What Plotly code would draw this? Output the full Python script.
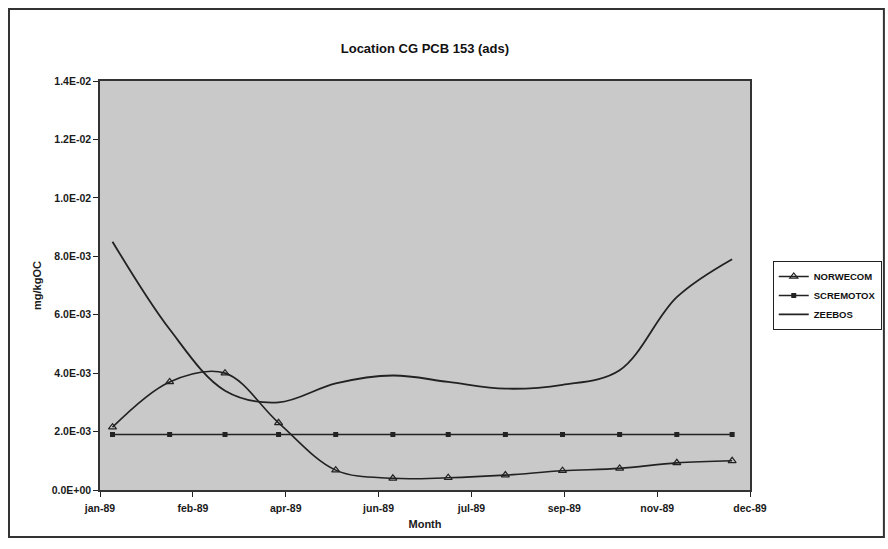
import plotly.graph_objects as go

# Sampling dates (1989) and concentrations in mg/kgOC
dates = ["1989-01-08", "1989-02-09", "1989-03-12", "1989-04-11", "1989-05-13", "1989-06-14",
         "1989-07-15", "1989-08-16", "1989-09-17", "1989-10-19", "1989-11-20", "1989-12-21"]
norwecom = [2.15e-3, 3.70e-3, 4.00e-3, 2.30e-3, 0.68e-3, 0.40e-3,
            0.42e-3, 0.51e-3, 0.66e-3, 0.74e-3, 0.93e-3, 1.00e-3]
scremotox = [1.9e-3] * 12
zeebos = [8.5e-3, 5.5e-3, 3.4e-3, 3.0e-3, 3.65e-3, 3.92e-3,
          3.7e-3, 3.47e-3, 3.6e-3, 4.1e-3, 6.6e-3, 7.9e-3]

# Axis ticks (52-day steps on the date axis)
x_tickvals = ["1989-01-01", "1989-02-22", "1989-04-15", "1989-06-06",
              "1989-07-28", "1989-09-18", "1989-11-09", "1989-12-31"]
x_ticktext = ["jan-89", "feb-89", "apr-89", "jun-89", "jul-89", "sep-89", "nov-89", "dec-89"]
y_tickvals = [0, 2e-3, 4e-3, 6e-3, 8e-3, 10e-3, 12e-3, 14e-3]
y_ticktext = ["0.0E+00", "2.0E-03", "4.0E-03", "6.0E-03", "8.0E-03", "1.0E-02", "1.2E-02", "1.4E-02"]

FONT = "Liberation Sans, Arial, sans-serif"
INK = "#222222"


def bold(labels):
    return [f"<b>{t}</b>" for t in labels]


fig = go.Figure()
fig.add_trace(go.Scatter(
    x=dates, y=norwecom, name="<b>NORWECOM</b>", mode="lines+markers",
    line=dict(color=INK, width=1.6, shape="spline", smoothing=1.0),
    marker=dict(symbol="triangle-up-open", size=7, color=INK, line=dict(width=1.2, color=INK)),
))
fig.add_trace(go.Scatter(
    x=dates, y=scremotox, name="<b>SCREMOTOX</b>", mode="lines+markers",
    line=dict(color=INK, width=1.6),
    marker=dict(symbol="square", size=5, color=INK),
))
fig.add_trace(go.Scatter(
    x=dates, y=zeebos, name="<b>ZEEBOS</b>", mode="lines",
    line=dict(color=INK, width=1.8, shape="spline", smoothing=1.0),
))

fig.update_layout(
    width=888, height=549,
    margin=dict(l=100, r=138, t=81, b=59, autoexpand=False),
    paper_bgcolor="white",
    plot_bgcolor="#c9c9c9",
    font=dict(family=FONT, size=10, color="#1a1a1a"),
    title=dict(text="<b>Location CG PCB 153 (ads)</b>", x=0.4785, xanchor="center",
               y=1 - 48 / 549, yanchor="middle", font=dict(family=FONT, size=13, color="#111")),
    showlegend=True,
    legend=dict(x=1.035, xanchor="left", y=0.56, yanchor="top",
                bgcolor="white", bordercolor="#222", borderwidth=1,
                font=dict(family=FONT, size=9.5, color="#111"),
                tracegroupgap=0, itemwidth=30),
    shapes=[dict(type="rect", xref="paper", yref="paper",
                 x0=-0.14, x1=1.206, y0=-0.115, y1=1.176,
                 line=dict(color="#333", width=2), layer="below")],
)

fig.update_xaxes(
    type="date", range=["1989-01-01", "1989-12-31"],
    tickmode="array", tickvals=x_tickvals, ticktext=bold(x_ticktext),
    ticks="outside", ticklen=5, tickcolor="#222", tickwidth=1,
    showgrid=False, zeroline=False,
    showline=True, linecolor="#333", linewidth=1.5, mirror=True,
    title=dict(text="<b>Month</b>", font=dict(family=FONT, size=11), standoff=7),
    tickfont=dict(family=FONT, size=10.5),
    ticklabelstandoff=3,
)
fig.update_yaxes(
    range=[0, 0.014],
    tickmode="array", tickvals=y_tickvals, ticktext=bold(y_ticktext),
    ticks="outside", ticklen=5, tickcolor="#222", tickwidth=1,
    showgrid=False, zeroline=False,
    showline=True, linecolor="#333", linewidth=1.5, mirror=True,
    title=dict(text="<b>mg/kgOC</b>", font=dict(family=FONT, size=11), standoff=8),
    tickfont=dict(family=FONT, size=10.5),
)

fig.write_html("out.html")
